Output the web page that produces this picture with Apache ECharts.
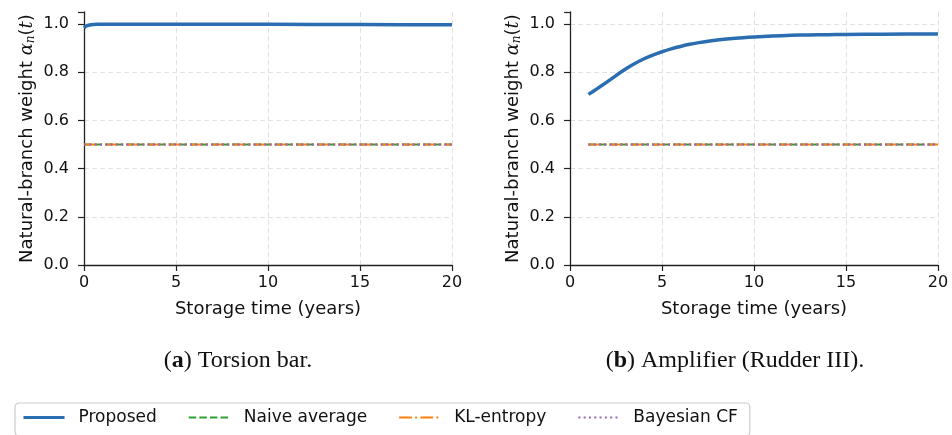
<!DOCTYPE html>
<html><head><meta charset="utf-8">
<script src="https://cdn.jsdelivr.net/npm/echarts@6/dist/echarts.min.js"></script>
<style>html,body{margin:0;padding:0;background:#fff}#c{width:952px;height:435px}</style>
</head><body><div id="c"></div>
<script>
// Panel (a) Torsion bar
const tA = [0, 0.05, 0.1, 0.2, 0.3, 0.5, 0.75, 1, 2, 5, 10, 15, 20];
const proposedA = [0.984, 0.988, 0.991, 0.994, 0.996, 0.998, 0.999, 0.999, 0.999, 0.999, 0.999, 0.998, 0.997];
const baseTA = [0, 20];
const naiveA = [0.5, 0.5];
const klA = [0.5, 0.5];
const bayesA = [0.5, 0.5];
// Panel (b) Amplifier (Rudder III)
const tB = [1, 1.5, 2, 2.5, 3, 3.5, 4, 4.5, 5, 5.5, 6, 6.5, 7, 7.5, 8, 9, 10, 11, 12, 13, 14, 15, 17, 20];
const proposedB = [0.708, 0.733, 0.759, 0.786, 0.812, 0.835, 0.855, 0.871, 0.885, 0.897, 0.907, 0.916, 0.923, 0.929, 0.934, 0.941, 0.946, 0.95, 0.953, 0.955, 0.956, 0.957, 0.958, 0.959];
const baseTB = [1, 20];
const naiveB = [0.5, 0.5];
const klB = [0.5, 0.5];
const bayesB = [0.5, 0.5];
const xTicks = [0, 5, 10, 15, 20];
const yTicks = [0, 0.2, 0.4, 0.6, 0.8, 1.0];
const seriesNames = ['Proposed', 'Naive average', 'KL-entropy', 'Bayesian CF'];
const captionA = ['a', ' Torsion bar.'];
const captionB = ['b', ' Amplifier (Rudder III).'];

const zip = (xs, ys) => xs.map((x, i) => [x, ys[i]]);
const font = 'DejaVu Sans';
const styles = [
  {color: '#2a6db0', width: 3.5, type: 'solid'},
  {color: '#2ca02c', width: 2, type: [7.4, 3.2]},
  {color: '#ff7f0e', width: 2, type: [12.8, 3.2, 2, 3.2]},
  {color: '#9467bd', width: 2, type: [2, 3.3]}
];
const gridColor = '#e2e2e2';
function xAxis(idx) {
  return {
    gridIndex: idx, type: 'value', min: xTicks[0], max: xTicks[xTicks.length - 1], interval: 5,
    name: 'Storage time (years)', nameLocation: 'middle', nameGap: 35,
    nameTextStyle: {fontFamily: font, fontSize: 18, color: '#111'},
    axisLine: {show: true, onZero: false, lineStyle: {color: '#222', width: 1.3}},
    axisTick: {show: true, length: 6, lineStyle: {color: '#222', width: 1.2}},
    axisLabel: {fontFamily: font, fontSize: 16, color: '#111', margin: 10},
    splitLine: {show: true, lineStyle: {color: gridColor, type: [5, 3], width: 1}}
  };
}
function yAxis(idx) {
  const lastTick = yTicks[yTicks.length - 1];
  const cols = yTicks.map(() => gridColor).concat(['rgba(0,0,0,0)']);
  return {
    gridIndex: idx, type: 'value', min: 0, max: 1.05, interval: 0.2,
    name: '{n|Natural-branch weight }{i|α}{s|n}{n|(}{i|t}{n|)}', nameLocation: 'middle', nameGap: 47, nameRotate: 90,
    nameTextStyle: {rich: {
      n: {fontFamily: font, fontSize: 18, color: '#111'},
      i: {fontFamily: 'DejaVu Serif', fontStyle: 'italic', fontSize: 18, color: '#111'},
      s: {fontFamily: 'DejaVu Serif', fontStyle: 'italic', fontSize: 12, color: '#111', verticalAlign: 'bottom', padding: [7, 0, 0, 0]}
    }},
    axisLine: {show: true, onZero: false, lineStyle: {color: '#222', width: 1.3}},
    axisTick: {show: true, length: 6, lineStyle: {color: '#222', width: 1.2}},
    axisLabel: {fontFamily: font, fontSize: 16, color: '#111', margin: 15,
      formatter: v => (v > lastTick + 1e-9 ? '' : v.toFixed(1))},
    splitLine: {show: true, lineStyle: {color: cols, type: [5, 3], width: 1}}
  };
}
function mk(name, idx, xs, ys, st) {
  return {
    name, type: 'line', xAxisIndex: idx, yAxisIndex: idx, data: zip(xs, ys),
    symbol: 'none', smooth: name === 'Proposed' ? 0.25 : false, silent: true, animation: false,
    lineStyle: {color: st.color, width: st.width, type: st.type}, itemStyle: {color: st.color}
  };
}
const series = [
  mk(seriesNames[0], 0, tA, proposedA, styles[0]),
  mk(seriesNames[1], 0, baseTA, naiveA, styles[1]),
  mk(seriesNames[2], 0, baseTA, klA, styles[2]),
  mk(seriesNames[3], 0, baseTA, bayesA, styles[3]),
  mk(seriesNames[0], 1, tB, proposedB, styles[0]),
  mk(seriesNames[1], 1, baseTB, naiveB, styles[1]),
  mk(seriesNames[2], 1, baseTB, klB, styles[2]),
  mk(seriesNames[3], 1, baseTB, bayesB, styles[3])
];
const capRich = {
  b: {fontFamily: 'Liberation Serif', fontWeight: 'bold', fontSize: 24, color: '#111'},
  r: {fontFamily: 'Liberation Serif', fontWeight: 'normal', fontSize: 24, color: '#111'}
};
const chart = echarts.init(document.getElementById('c'), null, {renderer: 'canvas'});
chart.setOption({
  animation: false,
  backgroundColor: '#fff',
  grid: [
    {left: 84, top: 12, width: 368, height: 253},
    {left: 570, top: 12, width: 368, height: 253}
  ],
  xAxis: [xAxis(0), xAxis(1)],
  yAxis: [yAxis(0), yAxis(1)],
  title: [
    {text: '{r|(}{b|' + captionA[0] + '}{r|)' + captionA[1] + '}', left: 238, top: 349, padding: 0, textAlign: 'center', textStyle: {fontWeight: 'normal', rich: capRich}},
    {text: '{r|(}{b|' + captionB[0] + '}{r|)' + captionB[1] + '}', left: 735, top: 349, padding: 0, textAlign: 'center', textStyle: {fontWeight: 'normal', rich: capRich}}
  ],
  legend: {
    data: seriesNames.map((n, i) => ({name: n, lineStyle: {width: i === 0 ? 3 : 2}})),
    left: 15, top: 403, orient: 'horizontal',
    itemWidth: 41, itemHeight: 14, itemGap: 31, padding: [6, 12, 10, 7],
    borderColor: '#cccccc', borderWidth: 1.2, borderRadius: 4,
    itemStyle: {opacity: 0},
    textStyle: {fontFamily: font, fontSize: 17, color: '#111', padding: [0, 0, 0, 9]},
    selectedMode: false
  },
  series
});
</script></body></html>
